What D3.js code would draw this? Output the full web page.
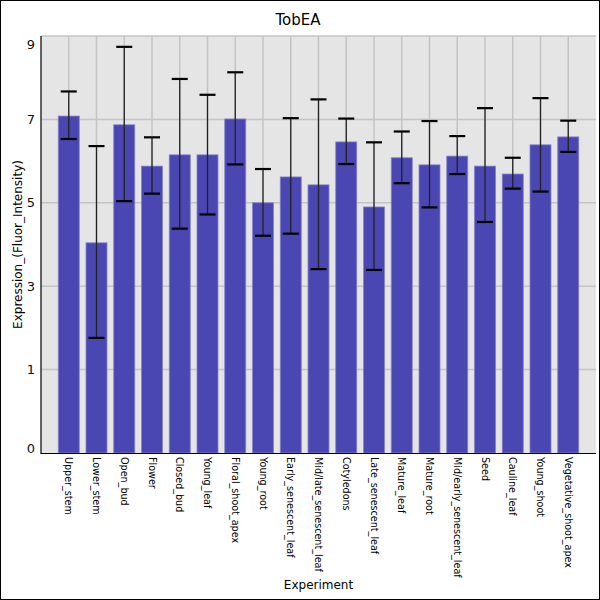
<!DOCTYPE html>
<html lang="en">
	<head>
		<meta charset="utf-8">
		<title>TobEA</title>
		<script src="https://d3js.org/d3.v7.min.js"></script>
		<style type="text/css">
			body {
				margin: 0;
			}
			text {
				font-family: "DejaVu Sans", sans-serif;
			}
		</style>
	</head>
	<body>
		<script type="text/javascript">
			// Chart data
			var experiments = ["Upper_stem", "Lower_stem", "Open_bud", "Flower", "Closed_bud", "Young_leaf",
				"Floral_shoot_apex", "Young_root", "Early_senescent_leaf", "Mid/late_senescent_leaf", "Cotyledons",
				"Late_senescent_leaf", "Mature_leaf", "Mature_root", "Mid/early_senescent_leaf", "Seed",
				"Cauline_leaf", "Young_shoot", "Vegetative_shoot_apex"];
			var means = [7.08, 4.04, 6.87, 5.88, 6.15, 6.15, 7.01, 5.00, 5.62, 5.43, 6.46, 4.90, 6.08, 5.91, 6.12, 5.88, 5.69, 6.39, 6.58];
			var upper = [7.67, 6.36, 8.74, 6.57, 7.97, 7.59, 8.13, 5.81, 7.03, 7.48, 7.02, 6.45, 6.71, 6.96, 6.60, 7.27, 6.08, 7.51, 6.97];
			var lower = [6.53, 1.76, 5.04, 5.22, 4.38, 4.72, 5.92, 4.21, 4.26, 3.41, 5.93, 3.39, 5.47, 4.89, 5.69, 4.54, 5.34, 5.27, 6.22];
			var yTickValues = [-0.88, 1, 3, 5, 7, 8.8];
			var yTickLabels = ["0", "1", "3", "5", "7", "9"];
			var yGridValues = [1, 3, 5, 7, 9];

			var w = 600;
			var h = 600;
			var margin = {top: 36, right: 4, bottom: 147, left: 41};

			var data = experiments.map(function(name, i) {
				return {name: name, mean: means[i], hi: upper[i], lo: lower[i]};
			});

			// Scales
			var xScale = d3.scalePoint()
				.domain(experiments)
				.range([margin.left, w - margin.right])
				.padding(1);

			var yScale = d3.scaleLinear()
				.domain([-1, 9])
				.range([h - margin.bottom, margin.top]);

			var barWidth = 21;
			var capWidth = 16;

			var svg = d3.select("body")
				.append("svg")
				.attr("width", w)
				.attr("height", h);

			// Outer frame
			svg.append("rect")
				.attr("x", 0.5)
				.attr("y", 0.5)
				.attr("width", w - 1)
				.attr("height", h - 1)
				.attr("fill", "white")
				.attr("stroke", "black");

			// Plot background
			svg.append("rect")
				.attr("x", margin.left)
				.attr("y", margin.top)
				.attr("width", w - margin.left - margin.right)
				.attr("height", h - margin.top - margin.bottom)
				.attr("fill", "#e5e5e5");

			// Grid lines
			svg.append("g")
				.selectAll("line")
				.data(yGridValues)
				.enter()
				.append("line")
				.attr("x1", margin.left)
				.attr("x2", w - margin.right)
				.attr("y1", function(d) { return yScale(d); })
				.attr("y2", function(d) { return yScale(d); })
				.attr("stroke", "#c4c4c4")
				.attr("stroke-width", 1.5);

			svg.append("g")
				.selectAll("line")
				.data(experiments)
				.enter()
				.append("line")
				.attr("x1", function(d) { return xScale(d); })
				.attr("x2", function(d) { return xScale(d); })
				.attr("y1", margin.top)
				.attr("y2", h - margin.bottom)
				.attr("stroke", "#c4c4c4")
				.attr("stroke-width", 1.5);

			// Bars
			svg.append("g")
				.selectAll("rect")
				.data(data)
				.enter()
				.append("rect")
				.attr("x", function(d) { return xScale(d.name) - barWidth / 2; })
				.attr("y", function(d) { return yScale(d.mean); })
				.attr("width", barWidth)
				.attr("height", function(d) { return yScale(-1) - yScale(d.mean); })
				.attr("fill", "#4a46b2")
				.attr("stroke", "#8582cc")
				.attr("stroke-width", 0.8);

			// Error bars
			var err = svg.append("g")
				.selectAll("g")
				.data(data)
				.enter()
				.append("g");

			err.append("line")
				.attr("x1", function(d) { return xScale(d.name); })
				.attr("x2", function(d) { return xScale(d.name); })
				.attr("y1", function(d) { return yScale(d.hi); })
				.attr("y2", function(d) { return yScale(d.lo); })
				.attr("stroke", "#222")
				.attr("stroke-width", 1.3);

			err.selectAll("line.cap")
				.data(function(d) { return [{name: d.name, v: d.hi}, {name: d.name, v: d.lo}]; })
				.enter()
				.append("line")
				.attr("class", "cap")
				.attr("x1", function(d) { return xScale(d.name) - capWidth / 2; })
				.attr("x2", function(d) { return xScale(d.name) + capWidth / 2; })
				.attr("y1", function(d) { return yScale(d.v); })
				.attr("y2", function(d) { return yScale(d.v); })
				.attr("stroke", "black")
				.attr("stroke-width", 2.2);

			// Axes
			var yAxis = d3.axisLeft(yScale)
				.tickValues(yTickValues)
				.tickSize(0)
				.tickPadding(6)
				.tickFormat(function(d, i) { return yTickLabels[i]; });

			var yG = svg.append("g")
				.attr("transform", "translate(" + margin.left + ",0)")
				.call(yAxis);
			yG.select(".domain").remove();
			yG.selectAll("text")
				.attr("font-size", 13)
				.attr("fill", "#111");

			svg.append("line")
				.attr("x1", margin.left)
				.attr("x2", margin.left)
				.attr("y1", margin.top)
				.attr("y2", h - margin.bottom + 1)
				.attr("stroke", "black")
				.attr("stroke-width", 1.2);

			svg.append("line")
				.attr("x1", margin.left)
				.attr("x2", w - margin.right)
				.attr("y1", h - margin.bottom + 0.5)
				.attr("y2", h - margin.bottom + 0.5)
				.attr("stroke", "black")
				.attr("stroke-width", 1.2);

			// Category labels
			svg.append("g")
				.selectAll("text")
				.data(experiments)
				.enter()
				.append("text")
				.attr("transform", function(d) {
					return "translate(" + xScale(d) + "," + (h - margin.bottom + 4) + ") rotate(90)";
				})
				.attr("dy", "0.35em")
				.attr("text-anchor", "start")
				.attr("font-size", 9.6)
				.attr("fill", "black")
				.text(function(d) { return d; });

			// Title and axis labels
			svg.append("text")
				.attr("x", 298)
				.attr("y", 25)
				.attr("text-anchor", "middle")
				.attr("font-size", 15)
				.text("TobEA");

			svg.append("text")
				.attr("transform", "rotate(-90)")
				.attr("x", -(margin.top + h - margin.bottom) / 2)
				.attr("y", 22)
				.attr("text-anchor", "middle")
				.attr("font-size", 12)
				.text("Expression_(Fluor_Intensity)");

			svg.append("text")
				.attr("x", (margin.left + w - margin.right) / 2)
				.attr("y", 589)
				.attr("text-anchor", "middle")
				.attr("font-size", 12)
				.text("Experiment");
		</script>
	</body>
</html>
